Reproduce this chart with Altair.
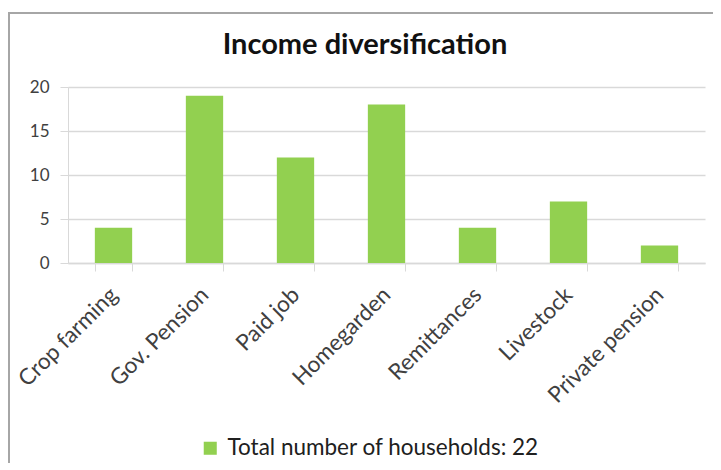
import altair as alt
import pandas as pd

categories = ["Crop farming", "Gov. Pension", "Paid job", "Homegarden",
              "Remittances", "Livestock", "Private pension"]
households = [4, 19, 12, 18, 4, 7, 2]
series_name = "Total number of households: 22"
y_ticks = [0, 5, 10, 15, 20]
chart_title = "Income diversification"

df = pd.DataFrame({
    "category": categories,
    "value": households,
    "series": [series_name] * len(categories),
})

FONT = "Lato"
GRID = "#d9d9d9"
TEXT = "#404040"

bars = alt.Chart(df).mark_bar(color="#92D050").encode(
    x=alt.X(
        "category:N", sort=categories, title=None,
        scale=alt.Scale(paddingInner=0.59, paddingOuter=0.295),
        axis=alt.Axis(labelAngle=315, labelAlign="right", labelBaseline="middle",
                      labelFontSize=22.5, labelColor=TEXT, labelFont=FONT,
                      tickBand="extent", tickSize=8, tickColor=GRID,
                      domainColor=GRID, domainWidth=1.5, grid=False, labelPadding=20),
    ),
    y=alt.Y(
        "value:Q", title=None, scale=alt.Scale(domain=[0, 20]),
        axis=alt.Axis(values=y_ticks, labelFontSize=17, labelColor=TEXT, labelFont=FONT,
                      tickSize=8, tickColor=GRID, domainColor=GRID, gridColor=GRID,
                      gridWidth=1.5, labelPadding=11),
    ),
    color=alt.Color(
        "series:N", scale=alt.Scale(range=["#92D050"]),
        legend=alt.Legend(orient="none", legendX=131, legendY=350, title=None,
                          symbolType="square", symbolSize=170, symbolStrokeWidth=0,
                          labelFontSize=22.5, labelColor="#202020", labelFont=FONT,
                          labelLimit=500, labelOffset=6),
    ),
)

frame = alt.Chart(pd.DataFrame({"k": [0]})).mark_rect(
    fillOpacity=0, stroke="#a6a6a6", strokeWidth=2
).encode(
    x=alt.value(-59), x2=alt.value(648), y=alt.value(-74), y2=alt.value(420)
)

title = alt.Chart(pd.DataFrame({"t": [chart_title]})).mark_text(
    font=FONT, fontSize=29, fontWeight="bold", color="#111111",
    align="center", baseline="alphabetic"
).encode(
    text="t:N", x=alt.value(297), y=alt.value(-33)
)

chart = alt.layer(frame, bars, title).properties(
    width=637, height=176,
    autosize=alt.AutoSizeParams(type="none"),
    padding={"left": 60, "top": 79, "right": 8, "bottom": 200},
).configure_view(stroke=None)

chart.save("out.html", embed_options={"renderer": "svg", "actions": False})
